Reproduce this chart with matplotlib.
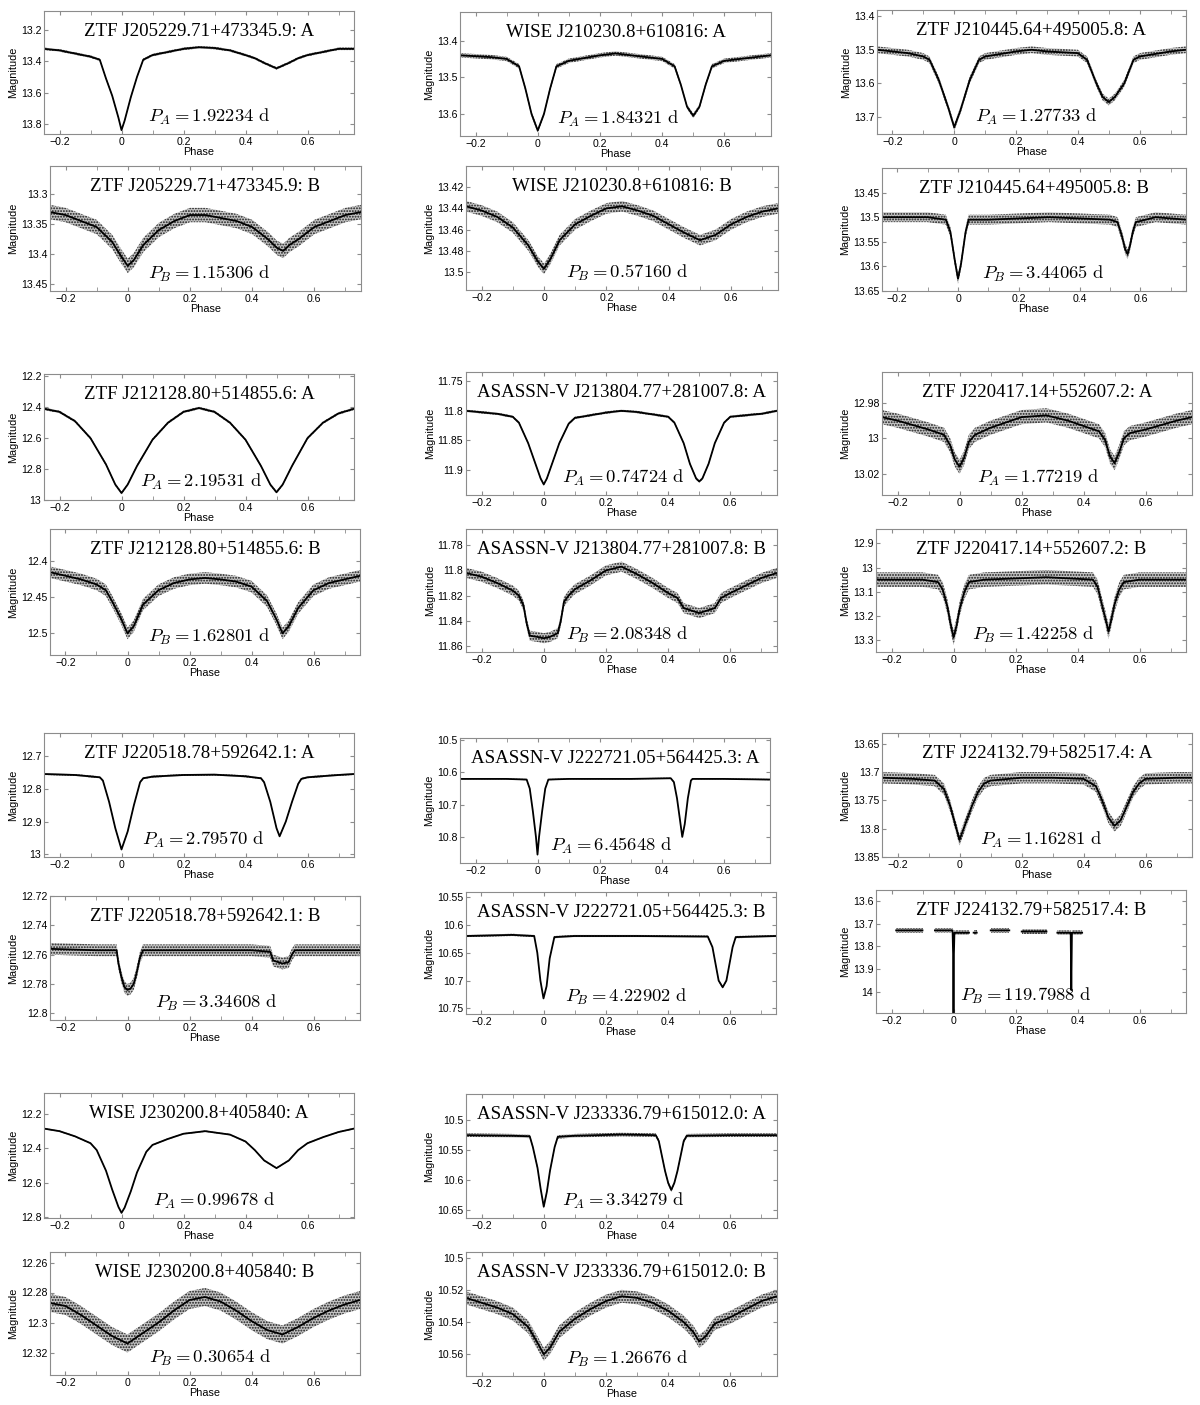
import numpy as np
import matplotlib
matplotlib.use('Agg')
import matplotlib.pyplot as plt
from matplotlib.ticker import MultipleLocator, FuncFormatter

plt.rcParams['mathtext.fontset'] = 'cm'
plt.rcParams['font.family'] = 'Liberation Sans'
plt.rcParams['hatch.linewidth'] = 0.9

# --- light curves (phase, magnitude) ---
ph_1a = [-0.25, -0.2, -0.15, -0.1, -0.07, -0.05, -0.03, -0.01, 0, 0.01, 0.03, 0.05, 0.07, 0.1, 0.15,
         0.2, 0.25, 0.3, 0.35, 0.4, 0.43, 0.46, 0.5, 0.54, 0.57, 0.6, 0.65, 0.7, 0.75]
mag_1a = [13.32, 13.33, 13.35, 13.37, 13.39, 13.51, 13.62, 13.76, 13.84, 13.78, 13.63, 13.5, 13.39, 13.36, 13.34,
          13.32, 13.31, 13.315, 13.33, 13.36, 13.38, 13.41, 13.445, 13.41, 13.38, 13.36, 13.34, 13.32, 13.32]

ph_1b = [-0.25, -0.2, -0.15, -0.1, -0.05, -0.02, 0, 0.02, 0.05, 0.1, 0.15, 0.2, 0.25, 0.3, 0.35, 0.4, 0.45,
         0.48, 0.5, 0.52, 0.55, 0.6, 0.65, 0.7, 0.75]
mag_1b = [13.33, 13.335, 13.345, 13.355, 13.38, 13.405, 13.42, 13.41, 13.385, 13.36, 13.345, 13.335, 13.335,
          13.34, 13.345, 13.355, 13.375, 13.39, 13.395, 13.385, 13.375, 13.355, 13.345, 13.335, 13.33]

ph_2a = [-0.25, -0.15, -0.1, -0.06, -0.04, -0.02, 0, 0.02, 0.04, 0.06, 0.1, 0.2, 0.25, 0.3, 0.4, 0.44, 0.46,
         0.48, 0.5, 0.52, 0.54, 0.56, 0.6, 0.7, 0.75]
mag_2a = [13.44, 13.445, 13.45, 13.47, 13.53, 13.6, 13.645, 13.6, 13.53, 13.47, 13.455, 13.44, 13.435, 13.44,
          13.45, 13.47, 13.52, 13.58, 13.605, 13.58, 13.52, 13.47, 13.455, 13.445, 13.44]

ph_2b = [-0.25, -0.2, -0.15, -0.1, -0.05, -0.02, 0, 0.02, 0.05, 0.1, 0.15, 0.2, 0.25, 0.3, 0.35, 0.4, 0.45,
         0.5, 0.55, 0.6, 0.65, 0.7, 0.75]
mag_2b = [13.438, 13.442, 13.448, 13.458, 13.475, 13.49, 13.497, 13.488, 13.47, 13.455, 13.447, 13.44, 13.438,
          13.442, 13.447, 13.455, 13.463, 13.47, 13.465, 13.455, 13.448, 13.443, 13.44]

ph_3a = [-0.25, -0.15, -0.1, -0.08, -0.05, -0.02, 0, 0.02, 0.05, 0.08, 0.1, 0.2, 0.25, 0.3, 0.4, 0.43, 0.46,
         0.48, 0.5, 0.52, 0.55, 0.58, 0.6, 0.7, 0.75]
mag_3a = [13.5, 13.51, 13.52, 13.53, 13.59, 13.67, 13.73, 13.68, 13.59, 13.53, 13.52, 13.505, 13.5, 13.505,
          13.51, 13.53, 13.6, 13.64, 13.655, 13.64, 13.6, 13.53, 13.52, 13.505, 13.5]

ph_3b = [-0.25, -0.1, -0.04, -0.025, -0.01, 0, 0.01, 0.025, 0.035, 0.1, 0.3, 0.5, 0.525, 0.54, 0.55, 0.558,
         0.565, 0.575, 0.585, 0.65, 0.75]
mag_3b = [13.5, 13.5, 13.505, 13.53, 13.59, 13.625, 13.595, 13.53, 13.505, 13.505, 13.5, 13.505, 13.51, 13.54,
          13.565, 13.575, 13.56, 13.53, 13.51, 13.5, 13.505]

ph_4a = [-0.25, -0.2, -0.15, -0.1, -0.05, -0.02, 0, 0.02, 0.05, 0.1, 0.15, 0.2, 0.25, 0.3, 0.35, 0.4, 0.45,
         0.48, 0.5, 0.52, 0.55, 0.6, 0.65, 0.7, 0.75]
mag_4a = [12.41, 12.43, 12.49, 12.6, 12.77, 12.9, 12.955, 12.9, 12.78, 12.61, 12.5, 12.43, 12.405, 12.43,
          12.5, 12.61, 12.78, 12.9, 12.95, 12.9, 12.78, 12.6, 12.5, 12.44, 12.41]

ph_4b = [-0.25, -0.2, -0.15, -0.1, -0.07, -0.05, -0.02, 0, 0.02, 0.05, 0.1, 0.15, 0.2, 0.25, 0.3, 0.35, 0.4,
         0.45, 0.48, 0.5, 0.52, 0.55, 0.6, 0.65, 0.7, 0.75]
mag_4b = [12.415, 12.42, 12.425, 12.432, 12.44, 12.455, 12.48, 12.5, 12.49, 12.46, 12.44, 12.43, 12.425,
          12.423, 12.425, 12.428, 12.435, 12.455, 12.48, 12.5, 12.49, 12.465, 12.44, 12.43, 12.425, 12.42]

ph_5a = [-0.25, -0.15, -0.1, -0.08, -0.05, -0.03, -0.01, 0, 0.01, 0.03, 0.05, 0.08, 0.1, 0.2, 0.25, 0.3, 0.4,
         0.42, 0.45, 0.47, 0.49, 0.5, 0.51, 0.53, 0.55, 0.58, 0.6, 0.7, 0.75]
mag_5a = [11.8, 11.805, 11.81, 11.82, 11.855, 11.885, 11.915, 11.925, 11.915, 11.885, 11.855, 11.822, 11.812,
          11.803, 11.8, 11.802, 11.81, 11.82, 11.855, 11.89, 11.915, 11.92, 11.915, 11.89, 11.855, 11.82,
          11.81, 11.805, 11.8]

ph_5b = [-0.25, -0.2, -0.15, -0.1, -0.08, -0.065, -0.055, -0.045, -0.02, 0, 0.02, 0.045, 0.055, 0.065, 0.08,
         0.1, 0.15, 0.2, 0.25, 0.3, 0.35, 0.4, 0.43, 0.45, 0.5, 0.55, 0.57, 0.6, 0.65, 0.7, 0.75]
mag_5b = [11.802, 11.805, 11.81, 11.816, 11.82, 11.828, 11.842, 11.852, 11.853, 11.854, 11.853, 11.85, 11.84,
          11.825, 11.82, 11.815, 11.808, 11.8, 11.797, 11.803, 11.81, 11.818, 11.822, 11.83, 11.834, 11.83,
          11.822, 11.818, 11.812, 11.806, 11.802]

ph_6a = [-0.25, -0.2, -0.1, -0.05, -0.03, -0.015, 0, 0.015, 0.03, 0.05, 0.1, 0.2, 0.28, 0.35, 0.45, 0.47,
         0.485, 0.5, 0.515, 0.53, 0.55, 0.6, 0.7, 0.75]
mag_6a = [12.988, 12.99, 12.995, 12.998, 13.004, 13.012, 13.016, 13.011, 13.002, 12.998, 12.994, 12.988,
          12.987, 12.99, 12.996, 13.001, 13.01, 13.014, 13.008, 13.0, 12.997, 12.995, 12.99, 12.988]

ph_6b = [-0.25, -0.1, -0.05, -0.035, -0.02, -0.01, 0, 0.01, 0.02, 0.035, 0.05, 0.1, 0.3, 0.45, 0.465, 0.48,
         0.49, 0.5, 0.51, 0.52, 0.535, 0.55, 0.6, 0.75]
mag_6b = [13.05, 13.05, 13.06, 13.09, 13.16, 13.23, 13.29, 13.24, 13.17, 13.1, 13.06, 13.05, 13.04, 13.05,
          13.08, 13.16, 13.21, 13.265, 13.21, 13.15, 13.09, 13.06, 13.05, 13.05]

ph_7a = [-0.25, -0.15, -0.07, -0.06, -0.04, -0.02, 0, 0.02, 0.04, 0.06, 0.07, 0.1, 0.2, 0.3, 0.4, 0.45, 0.46,
         0.48, 0.5, 0.51, 0.53, 0.55, 0.57, 0.58, 0.6, 0.7, 0.75]
mag_7a = [12.755, 12.758, 12.765, 12.775, 12.84, 12.92, 12.985, 12.93, 12.85, 12.78, 12.768, 12.763, 12.758,
          12.757, 12.762, 12.768, 12.78, 12.84, 12.92, 12.945, 12.9, 12.84, 12.785, 12.77, 12.765, 12.758,
          12.755]

ph_7b = [-0.25, -0.1, -0.035, -0.03, -0.02, -0.01, 0, 0.01, 0.02, 0.03, 0.04, 0.05, 0.2, 0.4, 0.46, 0.47,
         0.5, 0.52, 0.53, 0.54, 0.75]
mag_7b = [12.756, 12.757, 12.757, 12.765, 12.775, 12.782, 12.784, 12.783, 12.78, 12.772, 12.762, 12.757,
          12.757, 12.757, 12.758, 12.764, 12.766, 12.765, 12.76, 12.757, 12.757]

ph_8a = [-0.25, -0.1, -0.035, -0.025, -0.015, -0.005, 0, 0.005, 0.015, 0.025, 0.035, 0.1, 0.3, 0.43, 0.44,
         0.45, 0.46, 0.467, 0.475, 0.485, 0.495, 0.5, 0.6, 0.75]
mag_8a = [10.62, 10.62, 10.622, 10.65, 10.72, 10.8, 10.855, 10.8, 10.72, 10.65, 10.622, 10.62, 10.62, 10.618,
          10.63, 10.68, 10.75, 10.8, 10.76, 10.68, 10.625, 10.62, 10.62, 10.622]

ph_8b = [-0.25, -0.1, -0.03, -0.02, -0.01, 0, 0.01, 0.02, 0.035, 0.1, 0.3, 0.53, 0.545, 0.555, 0.565, 0.578,
         0.59, 0.6, 0.61, 0.62, 0.75]
mag_8b = [10.62, 10.618, 10.62, 10.65, 10.7, 10.732, 10.71, 10.66, 10.622, 10.62, 10.62, 10.621, 10.64,
          10.67, 10.7, 10.712, 10.7, 10.67, 10.64, 10.622, 10.62]

ph_9a = [-0.25, -0.15, -0.08, -0.05, -0.03, -0.01, 0, 0.02, 0.04, 0.06, 0.08, 0.1, 0.2, 0.3, 0.4, 0.44, 0.46,
         0.48, 0.5, 0.52, 0.54, 0.56, 0.58, 0.6, 0.7, 0.75]
mag_9a = [13.71, 13.712, 13.715, 13.73, 13.76, 13.8, 13.82, 13.79, 13.76, 13.735, 13.72, 13.715, 13.71, 13.71,
          13.712, 13.725, 13.75, 13.78, 13.795, 13.785, 13.76, 13.735, 13.72, 13.712, 13.71, 13.71]

# long-period system: observed only in a few phase windows (nan = gap)
ph_9b = [-0.185, -0.1, np.nan, -0.06, -0.003, -0.001, 0.0, 0.001, 0.003, 0.05, np.nan, 0.065, 0.075, np.nan,
         0.12, 0.18, np.nan, 0.22, 0.3, np.nan, 0.335, 0.378, 0.38, 0.382, 0.415]
mag_9b = [13.73, 13.73, np.nan, 13.73, 13.73, 13.85, 14.1, 13.85, 13.74, 13.74, np.nan, 13.74, 13.74, np.nan,
          13.73, 13.73, np.nan, 13.735, 13.735, np.nan, 13.74, 13.74, 13.99, 13.74, 13.74]

ph_10a = [-0.25, -0.2, -0.15, -0.1, -0.08, -0.05, -0.03, -0.01, 0, 0.01, 0.03, 0.05, 0.08, 0.1, 0.15, 0.2,
          0.27, 0.35, 0.4, 0.43, 0.46, 0.5, 0.54, 0.57, 0.6, 0.65, 0.7, 0.75]
mag_10a = [12.285, 12.3, 12.33, 12.37, 12.41, 12.53, 12.64, 12.74, 12.775, 12.745, 12.65, 12.54, 12.42, 12.38,
           12.345, 12.315, 12.3, 12.32, 12.36, 12.41, 12.47, 12.515, 12.47, 12.41, 12.37, 12.335, 12.305, 12.285]

ph_10b = [-0.25, -0.2, -0.15, -0.1, -0.05, 0, 0.05, 0.1, 0.15, 0.2, 0.25, 0.3, 0.35, 0.4, 0.45, 0.5, 0.55,
          0.6, 0.65, 0.7, 0.75]
mag_10b = [12.287, 12.289, 12.295, 12.302, 12.309, 12.314, 12.307, 12.3, 12.292, 12.285, 12.283, 12.286,
           12.292, 12.299, 12.305, 12.308, 12.303, 12.297, 12.292, 12.288, 12.285]

ph_11a = [-0.25, -0.1, -0.045, -0.035, -0.02, -0.01, 0, 0.01, 0.02, 0.035, 0.045, 0.1, 0.25, 0.36, 0.37, 0.38,
          0.39, 0.4, 0.41, 0.42, 0.43, 0.44, 0.45, 0.46, 0.6, 0.75]
mag_11a = [10.525, 10.526, 10.527, 10.545, 10.58, 10.615, 10.645, 10.62, 10.585, 10.545, 10.528, 10.526,
           10.524, 10.525, 10.535, 10.56, 10.585, 10.605, 10.617, 10.605, 10.585, 10.56, 10.535, 10.526,
           10.525, 10.525]

ph_11b = [-0.25, -0.2, -0.15, -0.1, -0.05, -0.02, 0, 0.02, 0.05, 0.1, 0.15, 0.2, 0.25, 0.3, 0.35, 0.4, 0.45,
          0.48, 0.5, 0.52, 0.55, 0.6, 0.65, 0.7, 0.75]
mag_11b = [10.525, 10.528, 10.531, 10.535, 10.543, 10.553, 10.56, 10.556, 10.546, 10.538, 10.532, 10.527,
           10.524, 10.525, 10.528, 10.533, 10.54, 10.546, 10.552, 10.549, 10.541, 10.537, 10.532, 10.527, 10.524]

# panel labels, periods, scatter half-width of each curve
titles = ['ZTF J205229.71+473345.9: A', 'ZTF J205229.71+473345.9: B',
          'WISE J210230.8+610816: A', 'WISE J210230.8+610816: B',
          'ZTF J210445.64+495005.8: A', 'ZTF J210445.64+495005.8: B',
          'ZTF J212128.80+514855.6: A', 'ZTF J212128.80+514855.6: B',
          'ASASSN-V J213804.77+281007.8: A', 'ASASSN-V J213804.77+281007.8: B',
          'ZTF J220417.14+552607.2: A', 'ZTF J220417.14+552607.2: B',
          'ZTF J220518.78+592642.1: A', 'ZTF J220518.78+592642.1: B',
          'ASASSN-V J222721.05+564425.3: A', 'ASASSN-V J222721.05+564425.3: B',
          'ZTF J224132.79+582517.4: A', 'ZTF J224132.79+582517.4: B',
          'WISE J230200.8+405840: A', 'WISE J230200.8+405840: B',
          'ASASSN-V J233336.79+615012.0: A', 'ASASSN-V J233336.79+615012.0: B']
periods = ['1.92234', '1.15306', '1.84321', '0.57160', '1.27733', '3.44065',
           '2.19531', '1.62801', '0.74724', '2.08348', '1.77219', '1.42258',
           '2.79570', '3.34608', '6.45648', '4.22902', '1.16281', '119.7988',
           '0.99678', '0.30654', '3.34279', '1.26676']
scatter = [0.008, 0.012, 0.006, 0.005, 0.01, 0.01,
           0.008, 0.008, 0.002, 0.004, 0.004, 0.03,
           0.003, 0.004, 0.002, 0.002, 0.01, 0.01,
           0.004, 0.006, 0.003, 0.004]
yticks = [[13.2, 13.4, 13.6, 13.8], [13.3, 13.35, 13.4, 13.45],
          [13.4, 13.5, 13.6], [13.42, 13.44, 13.46, 13.48, 13.5],
          [13.4, 13.5, 13.6, 13.7], [13.45, 13.5, 13.55, 13.6, 13.65],
          [12.2, 12.4, 12.6, 12.8, 13], [12.4, 12.45, 12.5],
          [11.75, 11.8, 11.85, 11.9], [11.78, 11.8, 11.82, 11.84, 11.86],
          [12.98, 13, 13.02], [12.9, 13, 13.1, 13.2, 13.3],
          [12.7, 12.8, 12.9, 13], [12.72, 12.74, 12.76, 12.78, 12.8],
          [10.5, 10.6, 10.7, 10.8], [10.55, 10.6, 10.65, 10.7, 10.75],
          [13.65, 13.7, 13.75, 13.8, 13.85], [13.6, 13.7, 13.8, 13.9, 14],
          [12.2, 12.4, 12.6, 12.8], [12.26, 12.28, 12.3, 12.32],
          [10.5, 10.55, 10.6, 10.65], [10.5, 10.52, 10.54, 10.56]]

curves = [(ph_1a, mag_1a), (ph_1b, mag_1b), (ph_2a, mag_2a), (ph_2b, mag_2b), (ph_3a, mag_3a), (ph_3b, mag_3b),
          (ph_4a, mag_4a), (ph_4b, mag_4b), (ph_5a, mag_5a), (ph_5b, mag_5b), (ph_6a, mag_6a), (ph_6b, mag_6b),
          (ph_7a, mag_7a), (ph_7b, mag_7b), (ph_8a, mag_8a), (ph_8b, mag_8b), (ph_9a, mag_9a), (ph_9b, mag_9b),
          (ph_10a, mag_10a), (ph_10b, mag_10b), (ph_11a, mag_11a), (ph_11b, mag_11b)]

# layout: (left, right, top, bottom) in pixels, y range (bright, faint), label x in phase
boxes = [(44, 354, 11, 134), (50, 361, 166, 291), (460, 771, 12, 136), (466, 778, 166, 290),
         (877, 1186, 10, 134), (882, 1186, 168, 291),
         (44, 354, 374, 500), (50, 360, 529, 655), (466, 777, 372, 495), (466, 777, 529, 652),
         (882, 1192, 372, 495), (876, 1186, 529, 652),
         (44, 354, 733, 857), (50, 360, 896, 1020), (460, 770, 738, 863), (466, 776, 892, 1014),
         (882, 1192, 733, 857), (876, 1186, 890, 1013),
         (44, 354, 1093, 1218), (50, 360, 1252, 1375), (466, 777, 1094, 1218), (466, 777, 1252, 1376)]
ylims = [(13.078, 13.865), (13.253, 13.462), (13.322, 13.66), (13.40, 13.517), (13.382, 13.75), (13.40, 13.65),
         (12.185, 13.0), (12.355, 12.53), (11.734, 11.943), (11.767, 11.865), (12.9625, 13.032), (12.84, 13.35),
         (12.63, 13.008), (12.72, 12.8045), (10.493, 10.881), (10.541, 10.76), (13.631, 13.85), (13.554, 14.09),
         (12.078, 12.805), (12.253, 12.335), (10.456, 10.664), (10.4965, 10.5735)]
label_x = [0.085, 0.065, 0.063, 0.07, 0.067, 0.08,
           0.06, 0.065, 0.06, 0.07, 0.057, 0.06,
           0.066, 0.09, 0.04, 0.07, 0.065, 0.02,
           0.1, 0.07, 0.06, 0.07]

W, H = 1200, 1405
fig = plt.figure(figsize=(W / 100, H / 100), dpi=100)
frame = '#8c8c8c'


def fmt(v, pos=None):
    return ('%g' % round(v, 4)).replace('-', '\u2212')


for i, (ph, mag) in enumerate(curves):
    l, r, t, b = boxes[i]
    ax = fig.add_axes([l / W, 1 - b / H, (r - l) / W, (b - t) / H])
    ph = np.array(ph, dtype=float)
    mag = np.array(mag, dtype=float)
    s = scatter[i]
    # scatter band of the photometry, then the mean light curve
    ax.fill_between(ph, mag - s, mag + s, facecolor='#c4c4c4', edgecolor='#1a1a1a',
                    hatch='......', linewidth=0)
    ax.plot(ph, mag, color='black', lw=1.3, ls='-')

    ax.set_xlim(-0.25, 0.75)
    ax.set_ylim(ylims[i][1], ylims[i][0])
    ax.xaxis.set_major_locator(MultipleLocator(0.2))
    ax.xaxis.set_minor_locator(MultipleLocator(0.1))
    ax.xaxis.set_major_formatter(FuncFormatter(fmt))
    ax.set_yticks(yticks[i])
    ax.yaxis.set_major_formatter(FuncFormatter(fmt))
    ax.tick_params(which='both', direction='in', top=True, right=True, length=3,
                   color=frame, labelsize=7.6, pad=2)
    for sp in ax.spines.values():
        sp.set_color(frame)
        sp.set_linewidth(0.8)
    ax.set_xlabel('Phase', fontsize=7.8, labelpad=0)
    ax.set_ylabel('Magnitude', fontsize=7.8, labelpad=2)

    ax.text(0.5, 0.835, titles[i], transform=ax.transAxes, ha='center', va='center',
            fontsize=13.6, family='Liberation Serif')
    sub = 'A' if i % 2 == 0 else 'B'
    ax.text(label_x[i], 0.14, r'$P_%s = %s\ \mathrm{d}$' % (sub, periods[i]),
            transform=ax.get_xaxis_transform(), ha='left', va='center', fontsize=13.4)

fig.savefig('out.png', dpi=100, facecolor='white')
